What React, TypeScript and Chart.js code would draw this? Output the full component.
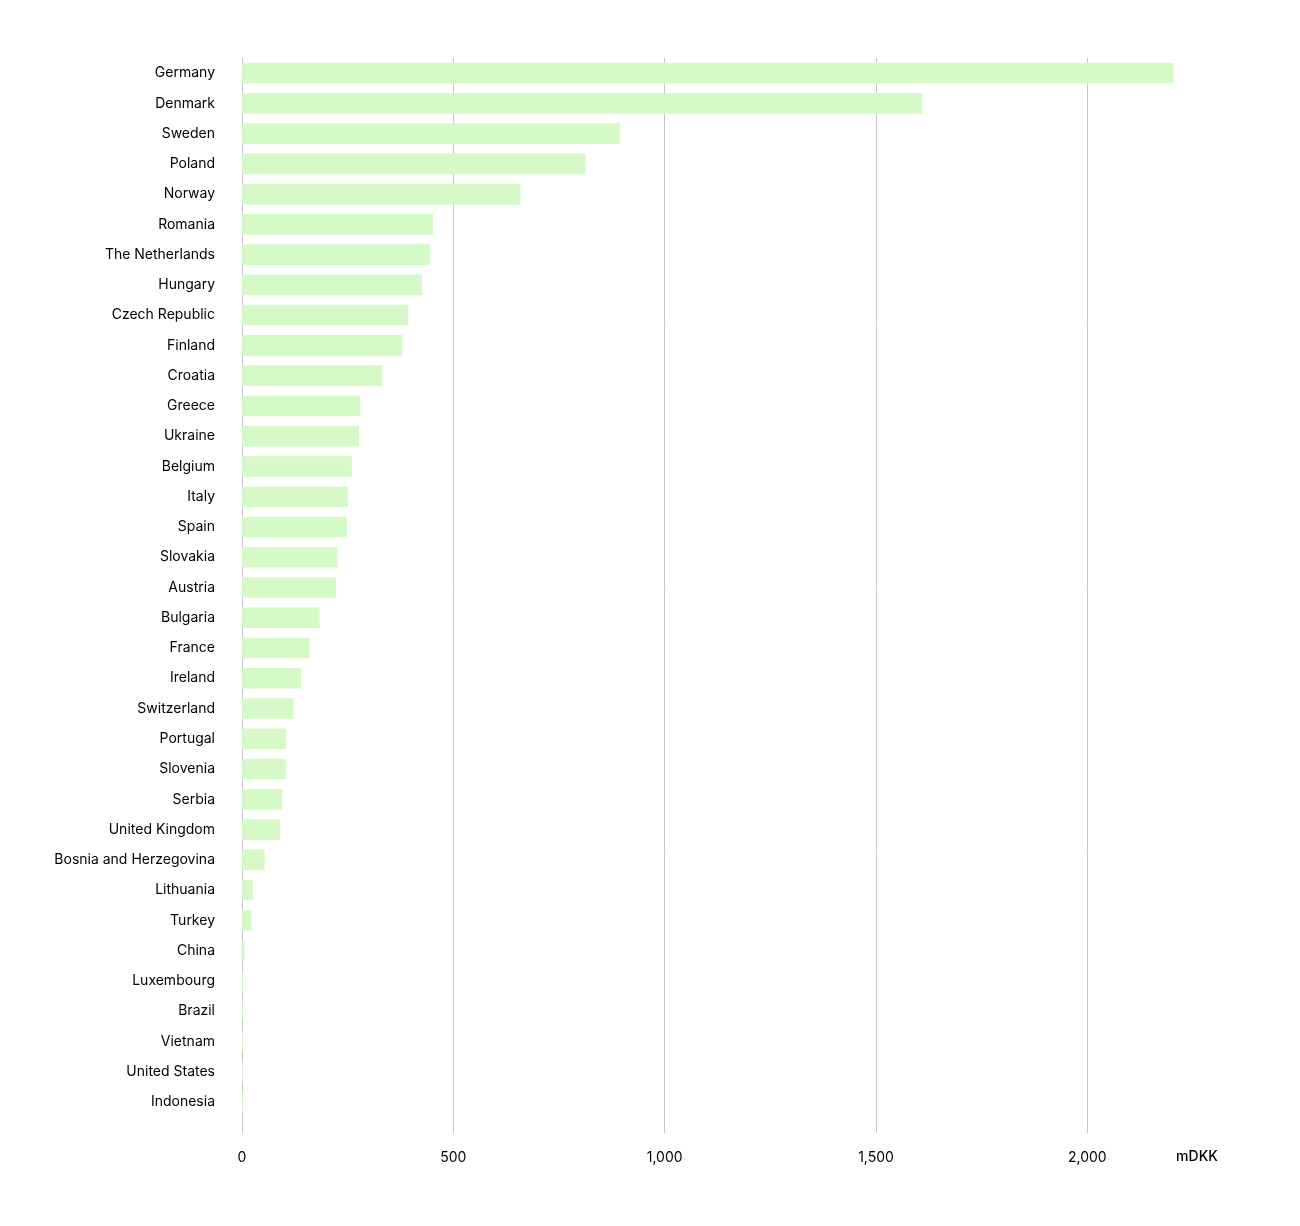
import React, { useEffect, useRef } from "react";
import { Chart, registerables } from "chart.js";

Chart.register(...registerables);

const countries: string[] = [
  "Germany", "Denmark", "Sweden", "Poland", "Norway", "Romania", "The Netherlands",
  "Hungary", "Czech Republic", "Finland", "Croatia", "Greece", "Ukraine", "Belgium",
  "Italy", "Spain", "Slovakia", "Austria", "Bulgaria", "France", "Ireland",
  "Switzerland", "Portugal", "Slovenia", "Serbia", "United Kingdom",
  "Bosnia and Herzegovina", "Lithuania", "Turkey", "China", "Luxembourg", "Brazil",
  "Vietnam", "United States", "Indonesia",
];

const valuesMDKK: number[] = [
  2203, 1608, 894, 812, 658, 451, 444, 425, 392, 379, 331, 279, 276, 259, 250, 247,
  225, 222, 183, 159, 139, 121, 103, 103, 95, 89, 53, 25, 22, 5, 2, 1.5, 1, 1, 0.5,
];

const xTickValues: number[] = [0, 500, 1000, 1500, 2000];
const xMax = 2250;
const unitLabel = "mDKK";

const FONT = "Inter, 'Liberation Sans', Arial, sans-serif";

export default function App() {
  const canvasRef = useRef<HTMLCanvasElement | null>(null);

  useEffect(() => {
    if (!canvasRef.current) return;
    const unitPlugin = {
      id: "unitLabel",
      afterDraw(chart: any) {
        const ctx = chart.ctx;
        const area = chart.chartArea;
        ctx.save();
        ctx.font = `500 14px ${FONT}`;
        ctx.fillStyle = "#000000";
        ctx.textAlign = "center";
        ctx.textBaseline = "middle";
        ctx.fillText(unitLabel, area.right + 4, 1157);
        ctx.restore();
      },
    };
    const chart = new Chart(canvasRef.current, {
      type: "bar",
      data: {
        labels: countries,
        datasets: [
          {
            data: valuesMDKK,
            backgroundColor: "#d5fac8",
            borderWidth: 0,
            barThickness: 20,
          },
        ],
      },
      options: {
        indexAxis: "y",
        animation: false,
        responsive: true,
        maintainAspectRatio: false,
        layout: { padding: { top: 58, bottom: 49, left: 0, right: 107 } },
        plugins: {
          legend: { display: false },
          tooltip: { enabled: false },
        },
        scales: {
          x: {
            type: "linear",
            min: 0,
            max: xMax,
            grid: {
              color: "#c6c6c6",
              lineWidth: 1,
              drawTicks: true,
              tickLength: 16,
            },
            border: { display: false },
            afterBuildTicks: (scale: any) => {
              scale.ticks = xTickValues.map((v) => ({ value: v }));
            },
            ticks: {
              padding: 16,
              color: "#000000",
              font: { family: FONT, size: 14 },
              callback: (v: any) => Number(v).toLocaleString("en-US"),
            },
            afterFit: (scale: any) => {
              scale.height = 60;
            },
          },
          y: {
            type: "category",
            grid: { display: false, drawTicks: false },
            border: { display: false },
            ticks: {
              padding: 27,
              color: "#000000",
              font: { family: FONT, size: 14 },
              autoSkip: false,
            },
            afterFit: (scale: any) => {
              scale.width = 242;
            },
          },
        },
      },
      plugins: [unitPlugin],
    } as any);
    return () => chart.destroy();
  }, []);

  return (
    <div style={{ position: "fixed", left: 0, top: 0, width: 1300, height: 1226, background: "#ffffff" }}>
      <canvas ref={canvasRef} />
    </div>
  );
}
